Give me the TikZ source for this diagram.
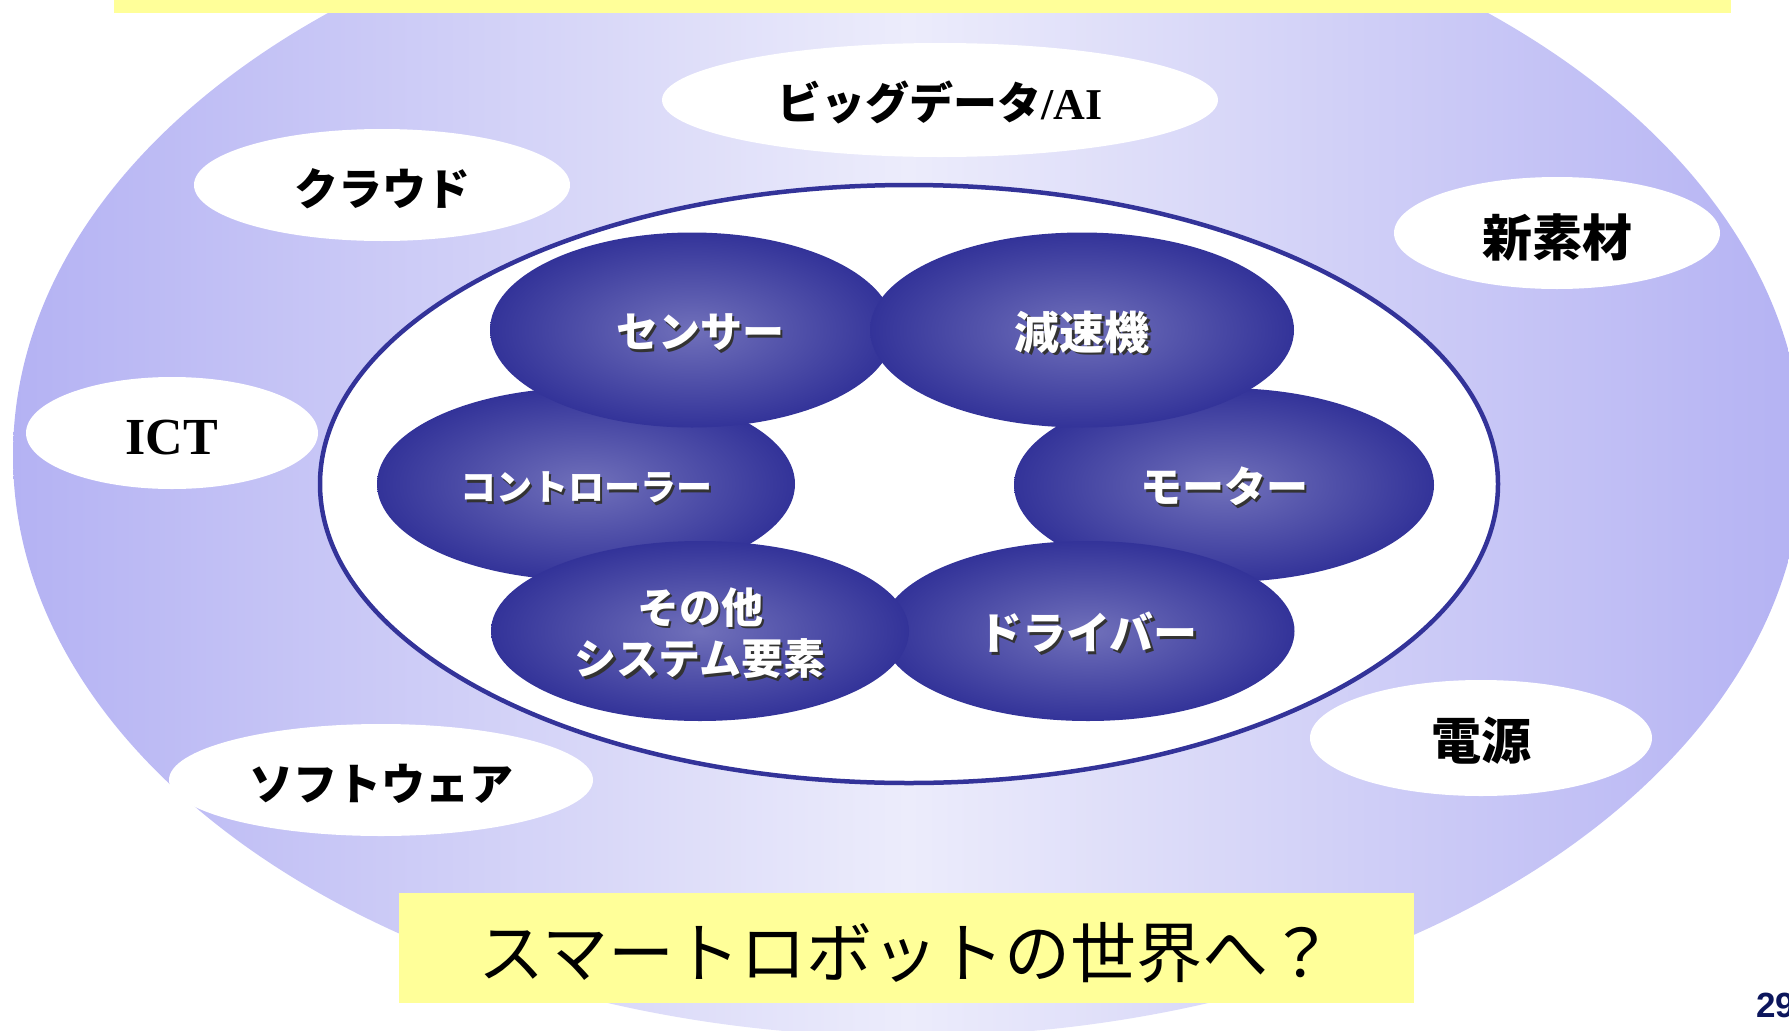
\documentclass[tikz,border=0pt]{standalone}
\usepackage{fontspec}
\usepackage{tikz}
\usetikzlibrary{shapes.geometric}

\newfontfamily\jpfont{Noto Sans CJK JP}
\newfontfamily\latinserif{Liberation Serif}
\newfontfamily\numfont{Liberation Sans}

\definecolor{lavedge}{RGB}{180,178,243}
\definecolor{lavmid}{RGB}{236,236,251}
\definecolor{partdark}{RGB}{51,51,153}
\definecolor{partlight}{RGB}{112,112,186}
\definecolor{notepad}{RGB}{255,255,153}
\definecolor{pagenum}{RGB}{12,22,92}

% lower a text a little, keeping its box
\newcommand{\drop}[2]{\raisebox{-#1}[\height][\depth]{#2}}
% white text with a dark drop shadow
\newcommand{\shadowed}[1]{\drop{9pt}{%
  \makebox[0pt][l]{\hspace{2.5pt}\raisebox{-2.5pt}{\color{black!80}\begin{tabular}{@{}c@{}}#1\end{tabular}}}%
  \begin{tabular}{@{}c@{}}#1\end{tabular}}}

\begin{document}
\begin{tikzpicture}[x=1pt, y=-1pt,
    part/.style={ellipse, inner sep=0pt, inner color=partlight, outer color=partdark,
                 text=white, font=\jpfont\bfseries\fontsize{42}{51}\selectfont},
    tech/.style={ellipse, inner sep=0pt, fill=white, text=black,
                 font=\jpfont\bfseries\fontsize{44}{50}\selectfont}]
    \useasboundingbox (0,0) rectangle (1789,1031);
    \clip (0,0) rectangle (1789,1031);

    % Background
    \shade [left color=lavedge, right color=lavedge, middle color=lavmid]
        (908,455.5) ellipse [x radius=895pt, y radius=581pt];
    \fill [notepad] (114,0) rectangle (1731,13);

    % Technologies around the robot
    \node [tech, minimum width=556pt, minimum height=114pt] (bigdata)  at (940,100)  {\drop{2pt}{ビッグデータ{\latinserif\bfseries /AI}}};
    \node [tech, minimum width=376pt, minimum height=112pt] (cloud)    at (382,185)  {\drop{4pt}{クラウド}};
    \node [tech, minimum width=326pt, minimum height=112pt] (material) at (1557,233) {\fontsize{50}{54}\selectfont\drop{4pt}{新素材}};
    \node [tech, minimum width=292pt, minimum height=112pt] (ict)      at (172,433)  {\latinserif\fontsize{52}{56}\selectfont\drop{5pt}{ICT}};
    \node [tech, minimum width=424pt, minimum height=112pt] (software) at (381,780)  {\drop{4pt}{ソフトウェア}};
    \node [tech, minimum width=342pt, minimum height=116pt] (power)    at (1481,738) {\fontsize{50}{54}\selectfont\drop{3pt}{電源}};

    % Robot core
    \node [ellipse, draw=partdark, line width=4.5pt, fill=white,
           minimum width=1178pt, minimum height=598pt] (core) at (909,484) {};

    % Parts {controller, motor, sensor, reducer, driver, others}
    \node [part, minimum width=418pt, minimum height=193pt] (controller) at (586,484)  {\fontsize{36}{44}\selectfont\shadowed{コントローラー}};
    \node [part, minimum width=420pt, minimum height=194pt] (motor)      at (1224,485) {\shadowed{モーター}};
    \node [part, minimum width=404pt, minimum height=195pt] (sensor)     at (692,330)  {\hspace*{16pt}\shadowed{センサー}};
    \node [part, minimum width=424pt, minimum height=195pt] (reducer)    at (1082,330) {\fontsize{45}{51}\selectfont\shadowed{減速機}};
    \node [part, minimum width=413pt, minimum height=180pt] (driver)     at (1088,631) {\fontsize{44}{51}\selectfont\shadowed{ドライバー}};
    \node [part, minimum width=418pt, minimum height=180pt] (others)     at (700,631)  {\shadowed{その他\\システム要素}};

    % Caption
    \node [fill=notepad, inner sep=0pt, minimum width=1015pt, minimum height=110pt,
           font=\jpfont\fontsize{66}{70}\selectfont] (title) at (906.5,948) {\drop{5pt}{スマートロボットの世界へ？}};
    \node [anchor=base west, inner sep=0pt, text=pagenum,
           font=\numfont\bfseries\fontsize{35}{40}\selectfont] (page) at (1756,1017) {29};
\end{tikzpicture}
\end{document}
